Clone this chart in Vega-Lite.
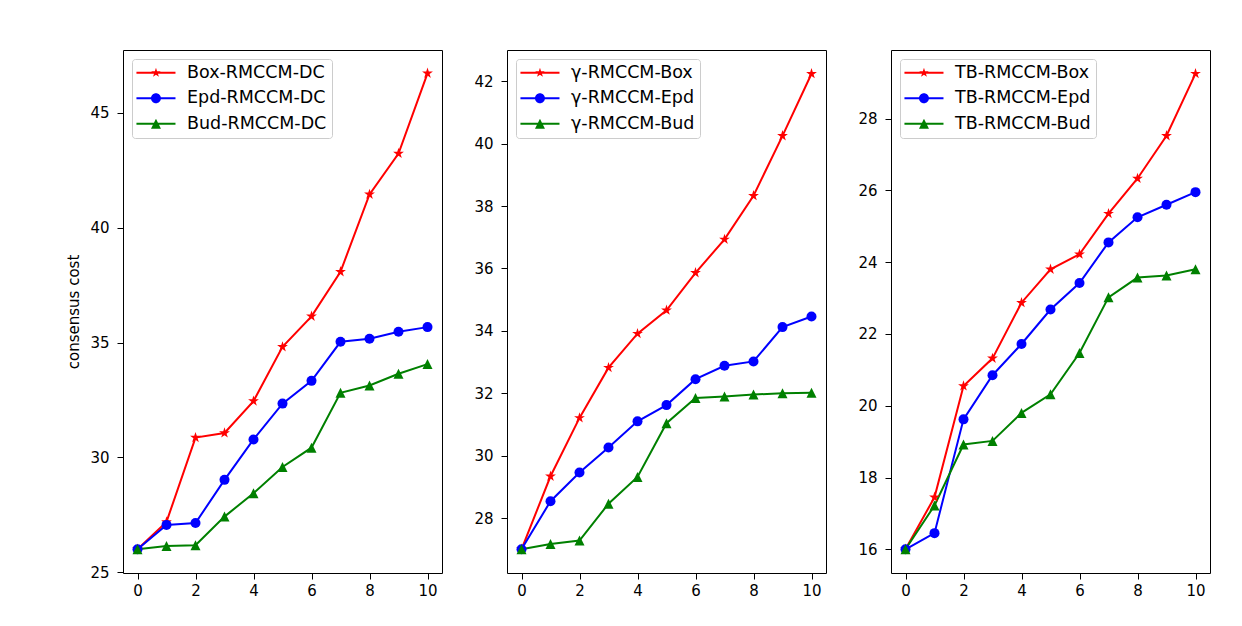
{
  "$schema": "https://vega.github.io/schema/vega-lite/v6.json",
  "background": "white",
  "padding": {"left": 66, "top": 49, "right": 5, "bottom": 5},
  "config": {
    "view": {"stroke": "#000", "strokeWidth": 1},
    "font": "DejaVu Sans",
    "axis": {"grid": false, "domain": false, "tickColor": "#000", "labelColor": "#000", "labelFontSize": 15, "labelFont": "DejaVu Sans", "titleFont": "DejaVu Sans", "titleFontSize": 15, "titleFontWeight": "normal", "titleColor": "#000", "tickSize": 6},
    "legend": {"orient": "top-left", "offset": 9, "title": null, "padding": 5, "rowPadding": 6.5, "symbolSize": 276, "labelOffset": 32.5, "labelFontSize": 17.5, "labelFont": "DejaVu Sans", "labelColor": "#000", "fillColor": "rgba(255,255,255,0.8)", "strokeColor": "#cccccc", "cornerRadius": 3, "symbolOpacity": 1, "symbolStrokeWidth": 0}
  },
  "bounds": "flush",
  "spacing": 65,
  "data": {"values": [
    {"panel": 1, "series": "Box-RMCCM-DC", "k": "Box", "x": 0, "y": 26.0},
    {"panel": 1, "series": "Box-RMCCM-DC", "k": "Box", "x": 1, "y": 27.19},
    {"panel": 1, "series": "Box-RMCCM-DC", "k": "Box", "x": 2, "y": 30.86},
    {"panel": 1, "series": "Box-RMCCM-DC", "k": "Box", "x": 3, "y": 31.06},
    {"panel": 1, "series": "Box-RMCCM-DC", "k": "Box", "x": 4, "y": 32.45},
    {"panel": 1, "series": "Box-RMCCM-DC", "k": "Box", "x": 5, "y": 34.81},
    {"panel": 1, "series": "Box-RMCCM-DC", "k": "Box", "x": 6, "y": 36.14},
    {"panel": 1, "series": "Box-RMCCM-DC", "k": "Box", "x": 7, "y": 38.08},
    {"panel": 1, "series": "Box-RMCCM-DC", "k": "Box", "x": 8, "y": 41.45},
    {"panel": 1, "series": "Box-RMCCM-DC", "k": "Box", "x": 9, "y": 43.23},
    {"panel": 1, "series": "Box-RMCCM-DC", "k": "Box", "x": 10, "y": 46.72},
    {"panel": 1, "series": "Epd-RMCCM-DC", "k": "Epd", "x": 0, "y": 26.0},
    {"panel": 1, "series": "Epd-RMCCM-DC", "k": "Epd", "x": 1, "y": 27.06},
    {"panel": 1, "series": "Epd-RMCCM-DC", "k": "Epd", "x": 2, "y": 27.14},
    {"panel": 1, "series": "Epd-RMCCM-DC", "k": "Epd", "x": 3, "y": 29.02},
    {"panel": 1, "series": "Epd-RMCCM-DC", "k": "Epd", "x": 4, "y": 30.78},
    {"panel": 1, "series": "Epd-RMCCM-DC", "k": "Epd", "x": 5, "y": 32.34},
    {"panel": 1, "series": "Epd-RMCCM-DC", "k": "Epd", "x": 6, "y": 33.33},
    {"panel": 1, "series": "Epd-RMCCM-DC", "k": "Epd", "x": 7, "y": 35.03},
    {"panel": 1, "series": "Epd-RMCCM-DC", "k": "Epd", "x": 8, "y": 35.16},
    {"panel": 1, "series": "Epd-RMCCM-DC", "k": "Epd", "x": 9, "y": 35.47},
    {"panel": 1, "series": "Epd-RMCCM-DC", "k": "Epd", "x": 10, "y": 35.67},
    {"panel": 1, "series": "Bud-RMCCM-DC", "k": "Bud", "x": 0, "y": 26.0},
    {"panel": 1, "series": "Bud-RMCCM-DC", "k": "Bud", "x": 1, "y": 26.14},
    {"panel": 1, "series": "Bud-RMCCM-DC", "k": "Bud", "x": 2, "y": 26.17},
    {"panel": 1, "series": "Bud-RMCCM-DC", "k": "Bud", "x": 3, "y": 27.42},
    {"panel": 1, "series": "Bud-RMCCM-DC", "k": "Bud", "x": 4, "y": 28.44},
    {"panel": 1, "series": "Bud-RMCCM-DC", "k": "Bud", "x": 5, "y": 29.58},
    {"panel": 1, "series": "Bud-RMCCM-DC", "k": "Bud", "x": 6, "y": 30.42},
    {"panel": 1, "series": "Bud-RMCCM-DC", "k": "Bud", "x": 7, "y": 32.81},
    {"panel": 1, "series": "Bud-RMCCM-DC", "k": "Bud", "x": 8, "y": 33.13},
    {"panel": 1, "series": "Bud-RMCCM-DC", "k": "Bud", "x": 9, "y": 33.64},
    {"panel": 1, "series": "Bud-RMCCM-DC", "k": "Bud", "x": 10, "y": 34.06},
    {"panel": 2, "series": "γ-RMCCM-Box", "k": "Box", "x": 0, "y": 27.0},
    {"panel": 2, "series": "γ-RMCCM-Box", "k": "Box", "x": 1, "y": 29.34},
    {"panel": 2, "series": "γ-RMCCM-Box", "k": "Box", "x": 2, "y": 31.21},
    {"panel": 2, "series": "γ-RMCCM-Box", "k": "Box", "x": 3, "y": 32.82},
    {"panel": 2, "series": "γ-RMCCM-Box", "k": "Box", "x": 4, "y": 33.91},
    {"panel": 2, "series": "γ-RMCCM-Box", "k": "Box", "x": 5, "y": 34.66},
    {"panel": 2, "series": "γ-RMCCM-Box", "k": "Box", "x": 6, "y": 35.86},
    {"panel": 2, "series": "γ-RMCCM-Box", "k": "Box", "x": 7, "y": 36.93},
    {"panel": 2, "series": "γ-RMCCM-Box", "k": "Box", "x": 8, "y": 38.33},
    {"panel": 2, "series": "γ-RMCCM-Box", "k": "Box", "x": 9, "y": 40.25},
    {"panel": 2, "series": "γ-RMCCM-Box", "k": "Box", "x": 10, "y": 42.24},
    {"panel": 2, "series": "γ-RMCCM-Epd", "k": "Epd", "x": 0, "y": 27.0},
    {"panel": 2, "series": "γ-RMCCM-Epd", "k": "Epd", "x": 1, "y": 28.54},
    {"panel": 2, "series": "γ-RMCCM-Epd", "k": "Epd", "x": 2, "y": 29.46},
    {"panel": 2, "series": "γ-RMCCM-Epd", "k": "Epd", "x": 3, "y": 30.26},
    {"panel": 2, "series": "γ-RMCCM-Epd", "k": "Epd", "x": 4, "y": 31.1},
    {"panel": 2, "series": "γ-RMCCM-Epd", "k": "Epd", "x": 5, "y": 31.62},
    {"panel": 2, "series": "γ-RMCCM-Epd", "k": "Epd", "x": 6, "y": 32.45},
    {"panel": 2, "series": "γ-RMCCM-Epd", "k": "Epd", "x": 7, "y": 32.88},
    {"panel": 2, "series": "γ-RMCCM-Epd", "k": "Epd", "x": 8, "y": 33.02},
    {"panel": 2, "series": "γ-RMCCM-Epd", "k": "Epd", "x": 9, "y": 34.12},
    {"panel": 2, "series": "γ-RMCCM-Epd", "k": "Epd", "x": 10, "y": 34.46},
    {"panel": 2, "series": "γ-RMCCM-Bud", "k": "Bud", "x": 0, "y": 27.0},
    {"panel": 2, "series": "γ-RMCCM-Bud", "k": "Bud", "x": 1, "y": 27.17},
    {"panel": 2, "series": "γ-RMCCM-Bud", "k": "Bud", "x": 2, "y": 27.28},
    {"panel": 2, "series": "γ-RMCCM-Bud", "k": "Bud", "x": 3, "y": 28.46},
    {"panel": 2, "series": "γ-RMCCM-Bud", "k": "Bud", "x": 4, "y": 29.32},
    {"panel": 2, "series": "γ-RMCCM-Bud", "k": "Bud", "x": 5, "y": 31.04},
    {"panel": 2, "series": "γ-RMCCM-Bud", "k": "Bud", "x": 6, "y": 31.85},
    {"panel": 2, "series": "γ-RMCCM-Bud", "k": "Bud", "x": 7, "y": 31.9},
    {"panel": 2, "series": "γ-RMCCM-Bud", "k": "Bud", "x": 8, "y": 31.96},
    {"panel": 2, "series": "γ-RMCCM-Bud", "k": "Bud", "x": 9, "y": 32.0},
    {"panel": 2, "series": "γ-RMCCM-Bud", "k": "Bud", "x": 10, "y": 32.02},
    {"panel": 3, "series": "TB-RMCCM-Box", "k": "Box", "x": 0, "y": 16.0},
    {"panel": 3, "series": "TB-RMCCM-Box", "k": "Box", "x": 1, "y": 17.45},
    {"panel": 3, "series": "TB-RMCCM-Box", "k": "Box", "x": 2, "y": 20.55},
    {"panel": 3, "series": "TB-RMCCM-Box", "k": "Box", "x": 3, "y": 21.32},
    {"panel": 3, "series": "TB-RMCCM-Box", "k": "Box", "x": 4, "y": 22.87},
    {"panel": 3, "series": "TB-RMCCM-Box", "k": "Box", "x": 5, "y": 23.8},
    {"panel": 3, "series": "TB-RMCCM-Box", "k": "Box", "x": 6, "y": 24.22},
    {"panel": 3, "series": "TB-RMCCM-Box", "k": "Box", "x": 7, "y": 25.35},
    {"panel": 3, "series": "TB-RMCCM-Box", "k": "Box", "x": 8, "y": 26.33},
    {"panel": 3, "series": "TB-RMCCM-Box", "k": "Box", "x": 9, "y": 27.52},
    {"panel": 3, "series": "TB-RMCCM-Box", "k": "Box", "x": 10, "y": 29.25},
    {"panel": 3, "series": "TB-RMCCM-Epd", "k": "Epd", "x": 0, "y": 16.0},
    {"panel": 3, "series": "TB-RMCCM-Epd", "k": "Epd", "x": 1, "y": 16.45},
    {"panel": 3, "series": "TB-RMCCM-Epd", "k": "Epd", "x": 2, "y": 19.62},
    {"panel": 3, "series": "TB-RMCCM-Epd", "k": "Epd", "x": 3, "y": 20.85},
    {"panel": 3, "series": "TB-RMCCM-Epd", "k": "Epd", "x": 4, "y": 21.72},
    {"panel": 3, "series": "TB-RMCCM-Epd", "k": "Epd", "x": 5, "y": 22.68},
    {"panel": 3, "series": "TB-RMCCM-Epd", "k": "Epd", "x": 6, "y": 23.42},
    {"panel": 3, "series": "TB-RMCCM-Epd", "k": "Epd", "x": 7, "y": 24.55},
    {"panel": 3, "series": "TB-RMCCM-Epd", "k": "Epd", "x": 8, "y": 25.25},
    {"panel": 3, "series": "TB-RMCCM-Epd", "k": "Epd", "x": 9, "y": 25.6},
    {"panel": 3, "series": "TB-RMCCM-Epd", "k": "Epd", "x": 10, "y": 25.95},
    {"panel": 3, "series": "TB-RMCCM-Bud", "k": "Bud", "x": 0, "y": 16.0},
    {"panel": 3, "series": "TB-RMCCM-Bud", "k": "Bud", "x": 1, "y": 17.22},
    {"panel": 3, "series": "TB-RMCCM-Bud", "k": "Bud", "x": 2, "y": 18.92},
    {"panel": 3, "series": "TB-RMCCM-Bud", "k": "Bud", "x": 3, "y": 19.02},
    {"panel": 3, "series": "TB-RMCCM-Bud", "k": "Bud", "x": 4, "y": 19.8},
    {"panel": 3, "series": "TB-RMCCM-Bud", "k": "Bud", "x": 5, "y": 20.32},
    {"panel": 3, "series": "TB-RMCCM-Bud", "k": "Bud", "x": 6, "y": 21.47},
    {"panel": 3, "series": "TB-RMCCM-Bud", "k": "Bud", "x": 7, "y": 23.02},
    {"panel": 3, "series": "TB-RMCCM-Bud", "k": "Bud", "x": 8, "y": 23.57},
    {"panel": 3, "series": "TB-RMCCM-Bud", "k": "Bud", "x": 9, "y": 23.63},
    {"panel": 3, "series": "TB-RMCCM-Bud", "k": "Bud", "x": 10, "y": 23.8}
  ]},
  "hconcat": [
    {
      "width": 319, "height": 523,
      "transform": [{"filter": "datum.panel == 1"}],
      "encoding": {
        "x": {"field": "x", "type": "quantitative", "scale": {"domain": [-0.5, 10.5], "nice": false, "zero": false}, "axis": {"values": [0, 2, 4, 6, 8, 10], "title": null, "labelPadding": 4, "labelFontSize": 15}},
        "y": {"field": "y", "type": "quantitative", "scale": {"domain": [24.965, 47.735], "nice": false, "zero": false}, "axis": {"values": [25, 30, 35, 40, 45], "title": "consensus cost", "labelPadding": 8, "titlePadding": 8, "labelFontSize": 15, "titleFontSize": 15}}
      },
      "layer": [
        {"transform": [{"filter": "datum.k == 'Box'"}], "mark": {"type": "line", "strokeWidth": 2, "color": "#ff0000"}},
        {"transform": [{"filter": "datum.k == 'Epd'"}], "mark": {"type": "line", "strokeWidth": 2, "color": "#0000ff"}},
        {"transform": [{"filter": "datum.k == 'Bud'"}], "mark": {"type": "line", "strokeWidth": 2, "color": "#008000"}},
        {"transform": [{"filter": "datum.k == 'Box'"}], "mark": {"type": "point", "filled": true, "opacity": 1, "size": 130, "color": "#ff0000", "shape": "M0,-1L0.2245,-0.309L0.9511,-0.309L0.3633,0.118L0.5878,0.809L0,0.382L-0.5878,0.809L-0.3633,0.118L-0.9511,-0.309L-0.2245,-0.309Z"}},
        {"transform": [{"filter": "datum.k == 'Epd'"}], "mark": {"type": "point", "filled": true, "opacity": 1, "size": 100, "color": "#0000ff", "shape": "circle"}},
        {"transform": [{"filter": "datum.k == 'Bud'"}], "mark": {"type": "point", "filled": true, "opacity": 1, "size": 100, "color": "#008000", "shape": "M0,-1L1,1L-1,1Z"}},
        {"mark": {"type": "point", "filled": true, "opacity": 0, "size": 276},
         "encoding": {
           "color": {"field": "series", "type": "nominal", "scale": {"domain": ["Box-RMCCM-DC", "Epd-RMCCM-DC", "Bud-RMCCM-DC"], "range": ["#ff0000", "#0000ff", "#008000"]}},
           "shape": {"field": "series", "type": "nominal", "scale": {"domain": ["Box-RMCCM-DC", "Epd-RMCCM-DC", "Bud-RMCCM-DC"], "range": [
             "M-1.12,-0.12H3.58V0.12H-1.12ZM1.23,-0.6L1.365,-0.185L1.801,-0.185L1.448,0.071L1.583,0.485L1.23,0.229L0.877,0.485L1.012,0.071L0.659,-0.185L1.095,-0.185Z",
             "M-1.12,-0.12H3.58V0.12H-1.12ZM0.63,0A0.6,0.6,0,1,1,1.83,0A0.6,0.6,0,1,1,0.63,0Z",
             "M-1.12,-0.12H3.58V0.12H-1.12ZM1.23,-0.6L1.83,0.6L0.63,0.6Z"]}}
         }}
      ]
    },
    {
      "width": 319, "height": 523,
      "transform": [{"filter": "datum.panel == 2"}],
      "encoding": {
        "x": {"field": "x", "type": "quantitative", "scale": {"domain": [-0.5, 10.5], "nice": false, "zero": false}, "axis": {"values": [0, 2, 4, 6, 8, 10], "title": null, "labelPadding": 4, "labelFontSize": 15}},
        "y": {"field": "y", "type": "quantitative", "scale": {"domain": [26.24, 43.0], "nice": false, "zero": false}, "axis": {"values": [28, 30, 32, 34, 36, 38, 40, 42], "title": null, "labelPadding": 8, "labelFontSize": 15}}
      },
      "layer": [
        {"transform": [{"filter": "datum.k == 'Box'"}], "mark": {"type": "line", "strokeWidth": 2, "color": "#ff0000"}},
        {"transform": [{"filter": "datum.k == 'Epd'"}], "mark": {"type": "line", "strokeWidth": 2, "color": "#0000ff"}},
        {"transform": [{"filter": "datum.k == 'Bud'"}], "mark": {"type": "line", "strokeWidth": 2, "color": "#008000"}},
        {"transform": [{"filter": "datum.k == 'Box'"}], "mark": {"type": "point", "filled": true, "opacity": 1, "size": 130, "color": "#ff0000", "shape": "M0,-1L0.2245,-0.309L0.9511,-0.309L0.3633,0.118L0.5878,0.809L0,0.382L-0.5878,0.809L-0.3633,0.118L-0.9511,-0.309L-0.2245,-0.309Z"}},
        {"transform": [{"filter": "datum.k == 'Epd'"}], "mark": {"type": "point", "filled": true, "opacity": 1, "size": 100, "color": "#0000ff", "shape": "circle"}},
        {"transform": [{"filter": "datum.k == 'Bud'"}], "mark": {"type": "point", "filled": true, "opacity": 1, "size": 100, "color": "#008000", "shape": "M0,-1L1,1L-1,1Z"}},
        {"mark": {"type": "point", "filled": true, "opacity": 0, "size": 276},
         "encoding": {
           "color": {"field": "series", "type": "nominal", "scale": {"domain": ["γ-RMCCM-Box", "γ-RMCCM-Epd", "γ-RMCCM-Bud"], "range": ["#ff0000", "#0000ff", "#008000"]}},
           "shape": {"field": "series", "type": "nominal", "scale": {"domain": ["γ-RMCCM-Box", "γ-RMCCM-Epd", "γ-RMCCM-Bud"], "range": [
             "M-1.12,-0.12H3.58V0.12H-1.12ZM1.23,-0.6L1.365,-0.185L1.801,-0.185L1.448,0.071L1.583,0.485L1.23,0.229L0.877,0.485L1.012,0.071L0.659,-0.185L1.095,-0.185Z",
             "M-1.12,-0.12H3.58V0.12H-1.12ZM0.63,0A0.6,0.6,0,1,1,1.83,0A0.6,0.6,0,1,1,0.63,0Z",
             "M-1.12,-0.12H3.58V0.12H-1.12ZM1.23,-0.6L1.83,0.6L0.63,0.6Z"]}}
         }}
      ]
    },
    {
      "width": 319, "height": 523,
      "transform": [{"filter": "datum.panel == 3"}],
      "encoding": {
        "x": {"field": "x", "type": "quantitative", "scale": {"domain": [-0.5, 10.5], "nice": false, "zero": false}, "axis": {"values": [0, 2, 4, 6, 8, 10], "title": null, "labelPadding": 4, "labelFontSize": 15}},
        "y": {"field": "y", "type": "quantitative", "scale": {"domain": [15.34, 29.91], "nice": false, "zero": false}, "axis": {"values": [16, 18, 20, 22, 24, 26, 28], "title": null, "labelPadding": 8, "labelFontSize": 15}}
      },
      "layer": [
        {"transform": [{"filter": "datum.k == 'Box'"}], "mark": {"type": "line", "strokeWidth": 2, "color": "#ff0000"}},
        {"transform": [{"filter": "datum.k == 'Epd'"}], "mark": {"type": "line", "strokeWidth": 2, "color": "#0000ff"}},
        {"transform": [{"filter": "datum.k == 'Bud'"}], "mark": {"type": "line", "strokeWidth": 2, "color": "#008000"}},
        {"transform": [{"filter": "datum.k == 'Box'"}], "mark": {"type": "point", "filled": true, "opacity": 1, "size": 130, "color": "#ff0000", "shape": "M0,-1L0.2245,-0.309L0.9511,-0.309L0.3633,0.118L0.5878,0.809L0,0.382L-0.5878,0.809L-0.3633,0.118L-0.9511,-0.309L-0.2245,-0.309Z"}},
        {"transform": [{"filter": "datum.k == 'Epd'"}], "mark": {"type": "point", "filled": true, "opacity": 1, "size": 100, "color": "#0000ff", "shape": "circle"}},
        {"transform": [{"filter": "datum.k == 'Bud'"}], "mark": {"type": "point", "filled": true, "opacity": 1, "size": 100, "color": "#008000", "shape": "M0,-1L1,1L-1,1Z"}},
        {"mark": {"type": "point", "filled": true, "opacity": 0, "size": 276},
         "encoding": {
           "color": {"field": "series", "type": "nominal", "scale": {"domain": ["TB-RMCCM-Box", "TB-RMCCM-Epd", "TB-RMCCM-Bud"], "range": ["#ff0000", "#0000ff", "#008000"]}},
           "shape": {"field": "series", "type": "nominal", "scale": {"domain": ["TB-RMCCM-Box", "TB-RMCCM-Epd", "TB-RMCCM-Bud"], "range": [
             "M-1.12,-0.12H3.58V0.12H-1.12ZM1.23,-0.6L1.365,-0.185L1.801,-0.185L1.448,0.071L1.583,0.485L1.23,0.229L0.877,0.485L1.012,0.071L0.659,-0.185L1.095,-0.185Z",
             "M-1.12,-0.12H3.58V0.12H-1.12ZM0.63,0A0.6,0.6,0,1,1,1.83,0A0.6,0.6,0,1,1,0.63,0Z",
             "M-1.12,-0.12H3.58V0.12H-1.12ZM1.23,-0.6L1.83,0.6L0.63,0.6Z"]}}
         }}
      ]
    }
  ],
  "resolve": {"scale": {"color": "independent", "shape": "independent", "x": "independent", "y": "independent"}, "legend": {"color": "independent", "shape": "independent"}}
}
